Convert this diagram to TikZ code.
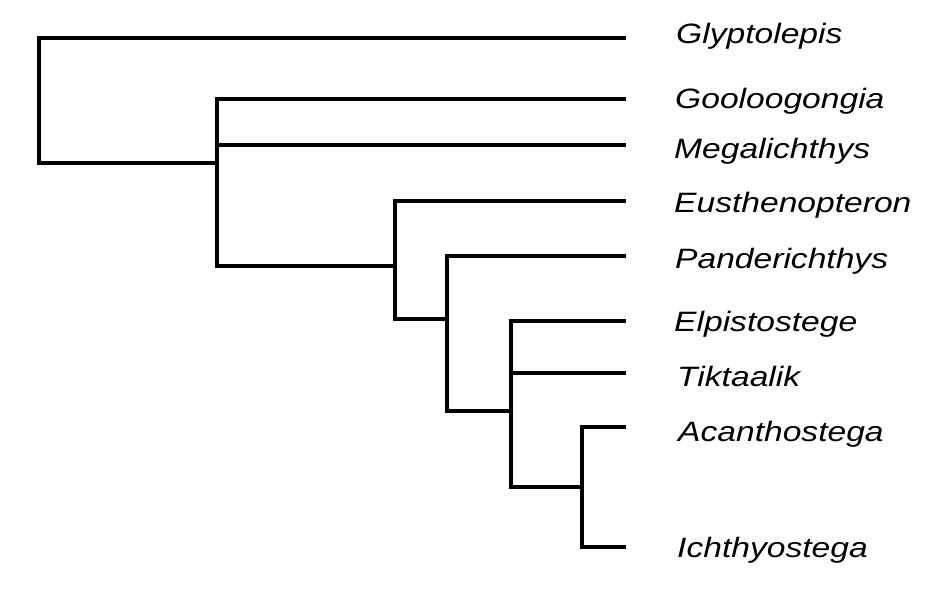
\documentclass[tikz,border=0pt]{standalone}
\usepackage{fontspec}
\newfontfamily\taxonfont{Liberation Sans}[FakeStretch=1.2]
\begin{document}
\begin{tikzpicture}[x=1pt,y=-1pt,
  branch/.style={line width=3.8pt},
  taxon/.style={anchor=base west,inner sep=0pt,
    font={\taxonfont\itshape\fontsize{28}{32}\selectfont}}]
  \useasboundingbox (0,0) rectangle (950,597);
  % internal nodes of the cladogram
  \coordinate (root) at (39,100);
  \coordinate (n1) at (217,163);
  \coordinate (n2) at (395,265.7);
  \coordinate (n3) at (447,319);
  \coordinate (n4) at (511,411);
  \coordinate (n5) at (581.7,487);
  % tips and their names
  \foreach \n/\y/\lx/\ly/\t in {
      glyp/37.7/676/43/Glyptolepis,
      gool/99/675/108.3/Gooloogongia,
      mega/145/674/158.3/Megalichthys,
      eust/201/674/212.3/Eusthenopteron,
      pand/256/675/268.3/Panderichthys,
      elpi/321/674/331.7/Elpistostege,
      tikt/373/677/386/Tiktaalik,
      acan/427/678/441.7/Acanthostega,
      ichth/546.7/677/557.7/Ichthyostega}{
    \coordinate (\n) at (626,\y);
    \node[taxon] (\n-lab) at (\lx,\ly) {\t};
  }
  \draw[branch] (root) |- (glyp);
  \draw[branch] (root) |- (n1);
  \draw[branch] (n1) |- (gool);
  \draw[branch] (n1) |- (mega);
  \draw[branch] (n1) |- (n2);
  \draw[branch] (n2) |- (eust);
  \draw[branch] (n2) |- (n3);
  \draw[branch] (n3) |- (pand);
  \draw[branch] (n3) |- (n4);
  \draw[branch] (n4) |- (elpi);
  \draw[branch] (n4) |- (tikt);
  \draw[branch] (n4) |- (n5);
  \draw[branch] (n5) |- (acan);
  \draw[branch] (n5) |- (ichth);
\end{tikzpicture}
\end{document}
